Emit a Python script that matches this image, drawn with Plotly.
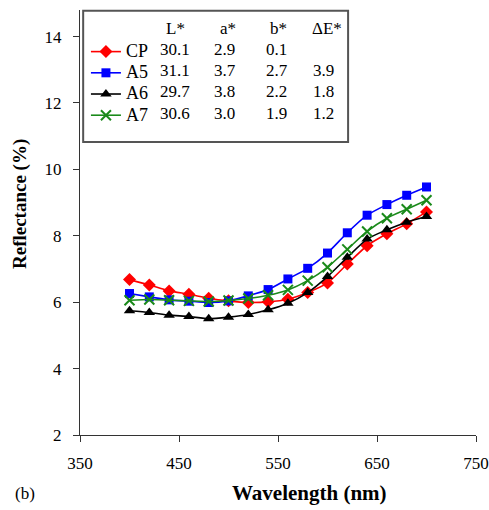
import plotly.graph_objects as go

wavelength = [400, 420, 440, 460, 480, 500, 520, 540, 560, 580, 600, 620, 640, 660, 680, 700]
cp = [6.68, 6.52, 6.34, 6.24, 6.12, 6.04, 5.99, 6.01, 6.09, 6.29, 6.58, 7.15, 7.70, 8.06, 8.36, 8.72]
a5 = [6.26, 6.16, 6.07, 6.03, 5.99, 6.04, 6.19, 6.38, 6.70, 7.02, 7.48, 8.09, 8.62, 8.94, 9.22, 9.47]
a6 = [5.74, 5.69, 5.61, 5.57, 5.50, 5.55, 5.63, 5.77, 5.97, 6.29, 6.77, 7.35, 7.90, 8.18, 8.41, 8.58]
a7 = [6.06, 6.08, 6.06, 6.04, 6.02, 6.05, 6.11, 6.21, 6.37, 6.65, 7.05, 7.59, 8.13, 8.53, 8.80, 9.07]

names = ["CP", "A5", "A6", "A7"]
L_star = ["30.1", "31.1", "29.7", "30.6"]
a_star = ["2.9", "3.7", "3.8", "3.0"]
b_star = ["0.1", "2.7", "2.2", "1.9"]
dE_star = ["", "3.9", "1.8", "1.2"]
headers = ["L*", "a*", "b*", "ΔE*"]

x_ticks = [350, 450, 550, 650, 750]
y_ticks = [2, 4, 6, 8, 10, 12, 14]

FONT = "Liberation Serif, Times New Roman, serif"
TXT = 17
series = [cp, a5, a6, a7]
colors = ["#ff0000", "#0000ff", "#000000", "#1a8a1a"]
symbols = ["diamond", "square", "triangle-up", "x-thin"]
sizes = [10, 9, 10, 10]

fig = go.Figure()
for nm, ys, c, s, sz in zip(names, series, colors, symbols, sizes):
    fig.add_trace(go.Scatter(
        x=wavelength, y=ys, mode="lines+markers",
        name='<span style="font-size:%dpx">%s</span>' % (TXT + 1, nm),
        line=dict(color=c, width=1.6, shape="spline", smoothing=0.6),
        marker=dict(symbol=s, size=sz, color=c, line=dict(color=c, width=2 if s == "x-thin" else 0)),
    ))

# legend box
fig.add_shape(type="rect", xref="paper", yref="paper", x0=0.008, x1=0.677, y0=0.6894, y1=0.9984,
              line=dict(color="#555555", width=2), fillcolor="white", layer="above")

col_x = [0.240, 0.365, 0.497, 0.614]
hdr_x = [0.240, 0.374, 0.500, 0.624]
row_y = [0.9059, 0.8572, 0.8078, 0.7576]
for hx, h in zip(hdr_x, headers):
    fig.add_annotation(x=hx, y=0.9576, xref="paper", yref="paper", text=h, showarrow=False,
                       font=dict(family=FONT, size=TXT, color="black"), xanchor="center", yanchor="middle")
for ry, vals in zip(row_y, zip(L_star, a_star, b_star, dE_star)):
    for cx, v in zip(col_x, vals):
        if v:
            fig.add_annotation(x=cx, y=ry, xref="paper", yref="paper", text=v, showarrow=False,
                               font=dict(family=FONT, size=TXT, color="black"), xanchor="center", yanchor="middle")

# axis titles placed as in the reference
fig.add_annotation(x=0.58, y=-0.1365, xref="paper", yref="paper", text="<b>Wavelength (nm)</b>",
                   showarrow=False, font=dict(family=FONT, size=21, color="black"),
                   xanchor="center", yanchor="middle")
fig.add_annotation(x=-0.1515, y=0.5435, xref="paper", yref="paper", text="<b>Reflectance (%)</b>",
                   showarrow=False, textangle=-90, font=dict(family=FONT, size=19, color="black"),
                   xanchor="center", yanchor="middle")
fig.add_annotation(x=-0.169, y=-0.1365, xref="paper", yref="paper", text="(b)", showarrow=False,
                   font=dict(family=FONT, size=TXT, color="black"), xanchor="left", yanchor="middle")

fig.update_layout(
    width=489, height=510,
    margin=dict(l=80, r=13, t=10, b=75, autoexpand=False),
    paper_bgcolor="white", plot_bgcolor="white",
    font=dict(family=FONT, size=TXT, color="black"),
    showlegend=True,
    legend=dict(x=0.015, y=0.9388, xanchor="left", yanchor="top", bgcolor="rgba(0,0,0,0)",
                font=dict(family=FONT, size=14, color="black"), tracegroupgap=0, itemwidth=30),
    xaxis=dict(range=[350, 750], tickvals=x_ticks, ticktext=[str(v) for v in x_ticks],
               showline=True, linecolor="#333333", linewidth=1.2, ticks="outside", ticklen=6,
               tickcolor="#333333", showgrid=False, zeroline=False, ticklabelstandoff=6,
               automargin=False, tickfont=dict(family=FONT, size=TXT, color="black")),
    yaxis=dict(range=[2, 14.8], tickvals=y_ticks, showline=True, linecolor="#333333", linewidth=1.2,
               ticks="outside", ticklen=6, tickcolor="#333333", showgrid=False, zeroline=False,
               ticklabelstandoff=8, automargin=False, tickfont=dict(family=FONT, size=TXT, color="black")),
)

fig.write_html("out.html", config={"displayModeBar": False},
               post_script="document.body.style.margin='0px';")
